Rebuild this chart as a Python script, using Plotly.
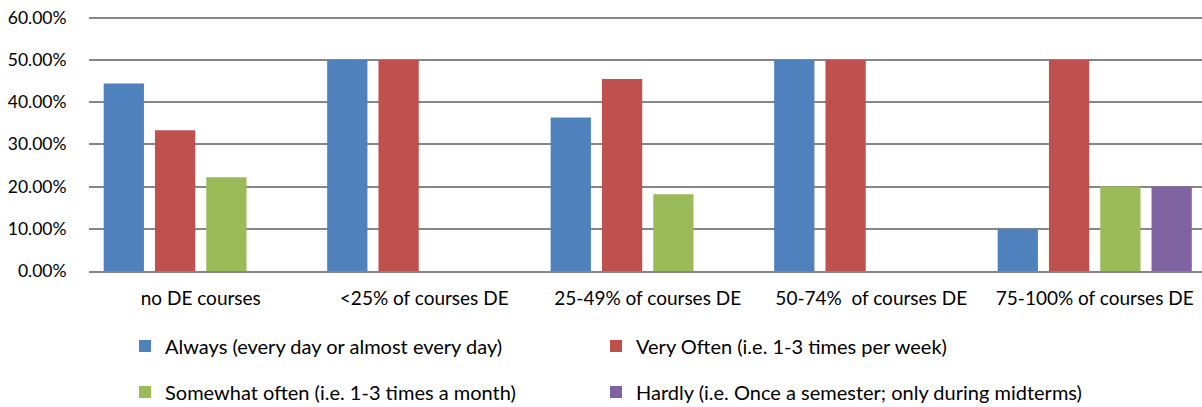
import plotly.graph_objects as go

# 카테고리 / 시리즈 값
categories = [
    "no DE courses",
    "<25% of courses DE",
    "25-49% of courses DE",
    "50-74%  of courses DE",
    "75-100% of courses DE",
]
always = [0.4444, 0.50, 0.3636, 0.50, 0.10]
very_often = [0.3333, 0.50, 0.4545, 0.50, 0.50]
somewhat_often = [0.2222, 0.0, 0.1818, 0.0, 0.20]
hardly = [0.0, 0.0, 0.0, 0.0, 0.20]

# (이름, 값, 색, 범례 id, 범례 x(px), 범례 y(px, 위에서))
series = [
    ("Always (every day or almost every day)", always, "#4F81BD", "legend", 125, 346),
    ("Very Often (i.e. 1-3 times per week)", very_often, "#C0504D", "legend2", 596, 346),
    ("Somewhat often (i.e. 1-3 times a month)", somewhat_often, "#9BBB59", "legend3", 125, 392),
    ("Hardly (i.e. Once a semester; only during midterms)", hardly, "#8064A2", "legend4", 596, 392),
]

W, H = 1202, 407
FONT = "Lato"
GRID = "#868686"
ML, MR, MT, MB = 89, 0, 16, 136

fig = go.Figure()
legends = {}
for name, vals, color, leg, lx, ly in series:
    fig.add_trace(go.Bar(
        x=categories, y=vals, name=name,
        marker=dict(color=color, line=dict(width=0)),
        legend=leg,
    ))
    # 범례 항목 1개씩 위치 지정 (2열 × 2행)
    legends[leg] = dict(
        orientation="h", xanchor="left", yanchor="middle",
        xref="paper", yref="container",
        x=(lx - ML) / (W - ML - MR), y=1 - ly / H,
        font=dict(family=FONT, size=20, color="#000000"),
        bgcolor="rgba(0,0,0,0)", borderwidth=0,
    )

fig.update_layout(
    width=W, height=H,
    margin=dict(l=ML, r=MR, t=MT, b=MB, autoexpand=False),
    paper_bgcolor="white", plot_bgcolor="white",
    barmode="group", bargap=0.082, bargroupgap=0.215,
    font=dict(family=FONT, size=17, color="#000000"),
    showlegend=True,
    **legends,
    xaxis=dict(
        range=[-0.5, 4.48], automargin=False,
        showgrid=False, showline=True, linecolor=GRID, linewidth=1.5,
        ticks="outside", ticklen=9, tickcolor="rgba(0,0,0,0)",
        tickfont=dict(family=FONT, size=19),
    ),
    yaxis=dict(
        range=[0, 0.604], tickvals=[0, 0.1, 0.2, 0.3, 0.4, 0.5, 0.6],
        tickformat=".2%", automargin=False,
        showgrid=True, gridcolor=GRID, gridwidth=1.5,
        zeroline=False, showline=False,
        ticks="outside", ticklen=18, tickcolor="rgba(0,0,0,0)",
        tickfont=dict(family=FONT, size=17.5),
    ),
)

# 브라우저 기본 body 여백(8px) 제거, 모드바 숨김
fig.write_html(
    "out.html",
    config={"displayModeBar": False},
    post_script="document.body.style.margin='0';",
)
